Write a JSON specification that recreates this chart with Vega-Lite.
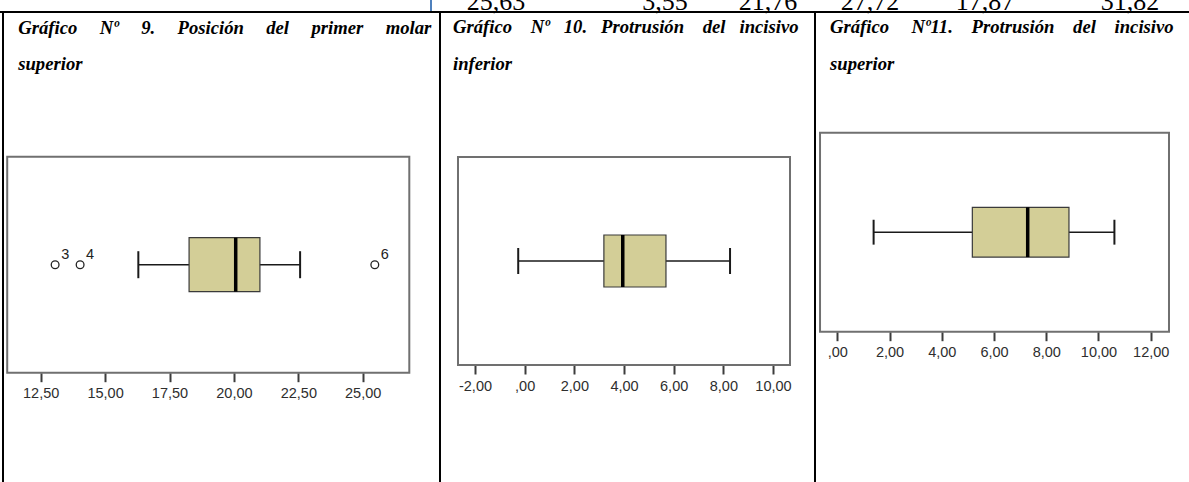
{
  "$schema": "https://vega.github.io/schema/vega-lite/v6.json",
  "background": "white",
  "width": 1189,
  "height": 482,
  "autosize": {"type": "none"},
  "padding": 0,
  "config": {
    "view": {"stroke": null},
    "axis": {"labelFont": "Liberation Sans", "labelFontSize": 14.5, "labelColor": "#2e2e2e", "tickColor": "#3c3c3c", "tickWidth": 2, "tickSize": 9, "labelPadding": 5, "domain": false, "grid": false, "title": null},
    "axisY": {"disable": true},
    "text": {"font": "Liberation Sans"}
  },
  "resolve": {"scale": {"x": "independent", "y": "independent"}, "axis": {"x": "independent", "y": "independent"}},
  "layer": [
    {
      "data": {"values": [{"i": 1, "t": "25,63"}, {"i": 2, "t": "3,55"}, {"i": 3, "t": "21,76"}, {"i": 4, "t": "27,72"}, {"i": 5, "t": "17,87"}, {"i": 6, "t": "31,82"}]},
      "mark": {"type": "text", "font": "Liberation Serif", "fontSize": 26, "baseline": "alphabetic", "align": "center", "dy": 9.5, "color": "#000000"},
      "encoding": {
        "x": {"field": "i", "type": "quantitative", "scale": {"domain": [0, 1, 2, 3, 4, 5, 6], "range": [431, 496, 665, 768, 870, 985, 1130], "zero": false, "nice": false}, "axis": null},
        "y": {"datum": 1, "scale": {"domain": [0, 1], "nice": false, "zero": false}, "axis": null},
        "text": {"field": "t"}
      }
    },
    {
      "data": {"values": [{"variable": "Posición del primer molar superior", "min": 16.29, "q1": 18.26, "med": 20.07, "q3": 21.01, "max": 22.57}]},
      "layer": [
        {
          "mark": {"type": "rect", "filled": false, "stroke": "#707070", "strokeWidth": 2},
          "encoding": {
            "x": {"datum": 11.2, "type": "quantitative", "scale": {"domain": [10.92, 57.077], "nice": false, "zero": false}, "axis": {"orient": "bottom", "offset": -109.3, "values": [12.5, 15, 17.5, 20, 22.5, 25], "labelExpr": "datum.value == 0 ? ',00' : replace(replace(format(datum.value, '.2f'), '.', ','), '\u2212', '-')"}},
            "x2": {"datum": 26.809},
            "y": {"datum": 0, "type": "quantitative", "scale": {"domain": [-0.506, 1.7255], "nice": false, "zero": false}, "axis": null},
            "y2": {"datum": 1}
          }
        },
        {
          "mark": {"type": "rule", "color": "#1a1a1a", "strokeWidth": 1.5},
          "encoding": {"x": {"field": "min", "type": "quantitative"}, "x2": {"field": "max"}, "y": {"datum": 0.5, "axis": null}}
        },
        {
          "mark": {"type": "rule", "color": "#1a1a1a", "strokeWidth": 2},
          "encoding": {"x": {"field": "min", "type": "quantitative"}, "y": {"datum": 0.4375, "axis": null}, "y2": {"datum": 0.5625}}
        },
        {
          "mark": {"type": "rule", "color": "#1a1a1a", "strokeWidth": 2},
          "encoding": {"x": {"field": "max", "type": "quantitative"}, "y": {"datum": 0.4375, "axis": null}, "y2": {"datum": 0.5625}}
        },
        {
          "mark": {"type": "rect", "fill": "#d3ce97", "stroke": "#3a3a3a", "strokeWidth": 1.2},
          "encoding": {"x": {"field": "q1", "type": "quantitative"}, "x2": {"field": "q3"}, "y": {"datum": 0.375, "axis": null}, "y2": {"datum": 0.625}}
        },
        {
          "mark": {"type": "rule", "color": "#000000", "strokeWidth": 3.5},
          "encoding": {"x": {"field": "med", "type": "quantitative"}, "y": {"datum": 0.375, "axis": null}, "y2": {"datum": 0.625}}
        },
        {
          "data": {"values": [{"v": 13.06, "caso": "3"}, {"v": 14.03, "caso": "4"}, {"v": 25.47, "caso": "6"}]},
          "layer": [
            {
              "mark": {"type": "point", "shape": "circle", "filled": true, "fill": "white", "stroke": "#222222", "strokeWidth": 1.3, "size": 60, "opacity": 1},
              "encoding": {"x": {"field": "v", "type": "quantitative"}, "y": {"datum": 0.5, "axis": null}}
            },
            {
              "mark": {"type": "text", "font": "Liberation Sans", "fontSize": 14.5, "color": "#222222", "align": "left", "baseline": "alphabetic", "dx": 6, "dy": -6},
              "encoding": {"x": {"field": "v", "type": "quantitative"}, "y": {"datum": 0.5, "axis": null}, "text": {"field": "caso"}}
            }
          ]
        },
        {
          "mark": {"type": "rect", "color": "#4f81bd", "strokeWidth": 0},
          "encoding": {"x": {"datum": 27.6126}, "x2": {"datum": 27.6902}, "y": {"datum": 1.6699, "axis": null}, "y2": {"datum": 1.7255}}
        },
        {
          "mark": {"type": "rule", "color": "#000000", "strokeWidth": 2},
          "encoding": {"x": {"datum": 10.92}, "x2": {"datum": 57.077}, "y": {"datum": 1.6699, "axis": null}}
        },
        {
          "mark": {"type": "rule", "color": "#000000", "strokeWidth": 2},
          "encoding": {"x": {"datum": 11.0365}, "y": {"datum": -0.506, "axis": null}, "y2": {"datum": 1.6699}}
        },
        {
          "mark": {"type": "rule", "color": "#000000", "strokeWidth": 2},
          "encoding": {"x": {"datum": 28.0008}, "y": {"datum": -0.506, "axis": null}, "y2": {"datum": 1.6699}}
        },
        {
          "mark": {"type": "rule", "color": "#000000", "strokeWidth": 2},
          "encoding": {"x": {"datum": 42.5582}, "y": {"datum": -0.506, "axis": null}, "y2": {"datum": 1.6699}}
        },
        {
          "mark": {"type": "text", "text": ["Gráfico \u2002\u00a0\u2009Nº \u2002\u00a0\u20099. \u2002\u00a0\u2009Posición \u2002\u00a0\u2009del \u2002\u00a0\u2009primer \u2002\u00a0\u2009molar", "superior"], "font": "Liberation Serif", "fontStyle": "italic", "fontWeight": "bold", "fontSize": 18.67, "lineHeight": 36.5, "align": "left", "baseline": "alphabetic", "dx": 11, "color": "#000000"},
          "encoding": {"x": {"datum": 11.2}, "y": {"datum": 1.5704, "axis": null}}
        }
      ]
    },
    {
      "data": {"values": [{"variable": "Protrusión del incisivo inferior", "min": -0.26, "q1": 3.19, "med": 3.95, "q3": 5.69, "max": 8.27}]},
      "layer": [
        {
          "mark": {"type": "rect", "filled": false, "stroke": "#707070", "strokeWidth": 2},
          "encoding": {
            "x": {"datum": -2.685, "type": "quantitative", "scale": {"domain": [-21.128, 26.752], "nice": false, "zero": false}, "axis": {"orient": "bottom", "offset": -117, "values": [-2, 0, 2, 4, 6, 8, 10], "labelExpr": "datum.value == 0 ? ',00' : replace(replace(format(datum.value, '.2f'), '.', ','), '\u2212', '-')"}},
            "x2": {"datum": 10.685},
            "y": {"datum": 0, "type": "quantitative", "scale": {"domain": [-0.5625, 1.7548], "nice": false, "zero": false}, "axis": null},
            "y2": {"datum": 1}
          }
        },
        {
          "mark": {"type": "rule", "color": "#1a1a1a", "strokeWidth": 1.5},
          "encoding": {"x": {"field": "min", "type": "quantitative"}, "x2": {"field": "max"}, "y": {"datum": 0.5, "axis": null}}
        },
        {
          "mark": {"type": "rule", "color": "#1a1a1a", "strokeWidth": 2},
          "encoding": {"x": {"field": "min", "type": "quantitative"}, "y": {"datum": 0.4375, "axis": null}, "y2": {"datum": 0.5625}}
        },
        {
          "mark": {"type": "rule", "color": "#1a1a1a", "strokeWidth": 2},
          "encoding": {"x": {"field": "max", "type": "quantitative"}, "y": {"datum": 0.4375, "axis": null}, "y2": {"datum": 0.5625}}
        },
        {
          "mark": {"type": "rect", "fill": "#d3ce97", "stroke": "#3a3a3a", "strokeWidth": 1.2},
          "encoding": {"x": {"field": "q1", "type": "quantitative"}, "x2": {"field": "q3"}, "y": {"datum": 0.375, "axis": null}, "y2": {"datum": 0.625}}
        },
        {
          "mark": {"type": "rule", "color": "#000000", "strokeWidth": 3.5},
          "encoding": {"x": {"field": "med", "type": "quantitative"}, "y": {"datum": 0.375, "axis": null}, "y2": {"datum": 0.625}}
        },
        {
          "mark": {"type": "text", "text": ["Gráfico \u2002\u00a0Nº \u200210. \u2002Protrusión \u2002\u00a0del \u2002incisivo", "inferior"], "font": "Liberation Serif", "fontStyle": "italic", "fontWeight": "bold", "fontSize": 18.67, "lineHeight": 36.5, "align": "left", "baseline": "alphabetic", "dx": -5, "color": "#000000"},
          "encoding": {"x": {"datum": -2.685}, "y": {"datum": 1.5938, "axis": null}}
        }
      ]
    },
    {
      "data": {"values": [{"variable": "Protrusión del incisivo superior", "min": 1.39, "q1": 5.17, "med": 7.29, "q3": 8.87, "max": 10.61}]},
      "layer": [
        {
          "mark": {"type": "rect", "filled": false, "stroke": "#707070", "strokeWidth": 2},
          "encoding": {
            "x": {"datum": -0.662, "type": "quantitative", "scale": {"domain": [-32.06, 13.466], "nice": false, "zero": false}, "axis": {"orient": "bottom", "offset": -150.3, "values": [0, 2, 4, 6, 8, 10, 12], "labelExpr": "datum.value == 0 ? ',00' : replace(replace(format(datum.value, '.2f'), '.', ','), '\u2212', '-')"}},
            "x2": {"datum": 12.7},
            "y": {"datum": 0, "type": "quantitative", "scale": {"domain": [-0.7553, 1.6668], "nice": false, "zero": false}, "axis": null},
            "y2": {"datum": 1}
          }
        },
        {
          "mark": {"type": "rule", "color": "#1a1a1a", "strokeWidth": 1.5},
          "encoding": {"x": {"field": "min", "type": "quantitative"}, "x2": {"field": "max"}, "y": {"datum": 0.5, "axis": null}}
        },
        {
          "mark": {"type": "rule", "color": "#1a1a1a", "strokeWidth": 2},
          "encoding": {"x": {"field": "min", "type": "quantitative"}, "y": {"datum": 0.4375, "axis": null}, "y2": {"datum": 0.5625}}
        },
        {
          "mark": {"type": "rule", "color": "#1a1a1a", "strokeWidth": 2},
          "encoding": {"x": {"field": "max", "type": "quantitative"}, "y": {"datum": 0.4375, "axis": null}, "y2": {"datum": 0.5625}}
        },
        {
          "mark": {"type": "rect", "fill": "#d3ce97", "stroke": "#3a3a3a", "strokeWidth": 1.2},
          "encoding": {"x": {"field": "q1", "type": "quantitative"}, "x2": {"field": "q3"}, "y": {"datum": 0.375, "axis": null}, "y2": {"datum": 0.625}}
        },
        {
          "mark": {"type": "rule", "color": "#000000", "strokeWidth": 3.5},
          "encoding": {"x": {"field": "med", "type": "quantitative"}, "y": {"datum": 0.375, "axis": null}, "y2": {"datum": 0.625}}
        },
        {
          "mark": {"type": "text", "text": ["Gráfico \u2002\u00a0\u2009Nº11. \u2002\u00a0Protrusión \u2002\u00a0del \u2002\u00a0incisivo", "superior"], "font": "Liberation Serif", "fontStyle": "italic", "fontWeight": "bold", "fontSize": 18.67, "lineHeight": 36.5, "align": "left", "baseline": "alphabetic", "dx": 10, "color": "#000000"},
          "encoding": {"x": {"datum": -0.662}, "y": {"datum": 1.4985, "axis": null}}
        }
      ]
    }
  ]
}
